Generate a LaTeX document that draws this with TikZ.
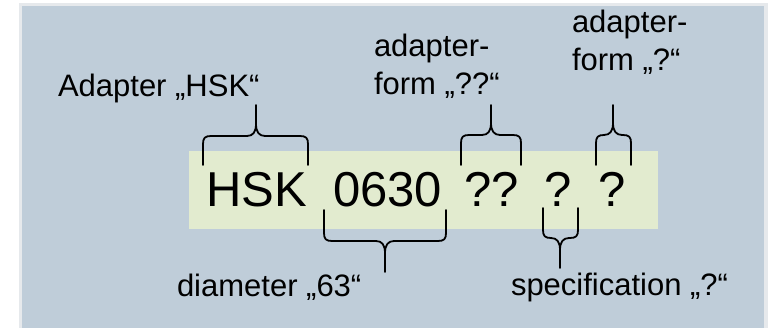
\documentclass[tikz,border=0pt]{standalone}
\usepackage{fontspec}
\setmainfont{Liberation Sans}
\definecolor{bgblue}{HTML}{BFCDD9}
\definecolor{bandgreen}{HTML}{E2EBCF}
\definecolor{shadowgray}{HTML}{E6E9EC}
\newcommand\mybrace[7]{%
  \draw[bracepath] (#1,#4) -- (#1,{#5-#7*8}) .. controls (#1,{#5-#7*2}) and ({#1+2},#5) .. ({#1+8},#5)
    -- ({#3-9},#5) .. controls ({#3-3},#5) and (#3,{#5+#7*4}) .. (#3,{#5+#7*12}) -- (#3,#6);
  \draw[bracepath] (#2,#4) -- (#2,{#5-#7*8}) .. controls (#2,{#5-#7*2}) and ({#2-2},#5) .. ({#2-8},#5)
    -- ({#3+9},#5) .. controls ({#3+3},#5) and (#3,{#5+#7*4}) .. (#3,{#5+#7*12});
}
\begin{document}
\begin{tikzpicture}[x=1pt,y=-1pt,
  bracepath/.style={line width=1.8pt, line join=round, line cap=round},
  lbl/.style={anchor=base west, inner sep=0pt, outer sep=0pt, font=\fontsize{31}{31}\selectfont},
  big/.style={anchor=base west, inner sep=0pt, outer sep=0pt, font=\fontsize{49}{49}\selectfont}]
\fill[white] (0,0) rectangle (770,328);
\useasboundingbox (0,0) rectangle (770,328);
\fill[shadowgray] (19,3) rectangle (768,328);
\fill[bgblue] (22,6) rectangle (764,328);
\fill[bandgreen] (189,151) rectangle (658,229);
% main code
\node[big] (hsk) at (206,207) {HSK};
\node[big] (dia) at (333,207) {0630};
\node[big] (form2) at (464,207) {??};
\node[big] (spec) at (544,207) {?};
\node[big] (form1) at (598,207) {?};
% labels
\node[lbl] (lhsk) at (58,97) {Adapter „HSK“};
\node[lbl] (lf2a) at (374,57) {adapter-};
\node[lbl] (lf2b) at (374,95) {form „??“};
\node[lbl] (lf1a) at (572,33) {adapter-};
\node[lbl] (lf1b) at (572,71) {form „?“};
\node[lbl] (ldia) at (177,296) {diameter „63“};
\node[lbl] (lspec) at (511,295) {specification „?“};
% braces
\mybrace{203}{308}{256}{165}{136}{105}{-1}
\mybrace{461}{521}{491}{165}{135}{105}{-1}
\mybrace{596}{631}{613}{165}{135}{105}{-1}
\mybrace{324}{446}{385}{210}{241}{272}{1}
\mybrace{543}{578}{560}{208}{238}{268}{1}
\end{tikzpicture}
\end{document}
